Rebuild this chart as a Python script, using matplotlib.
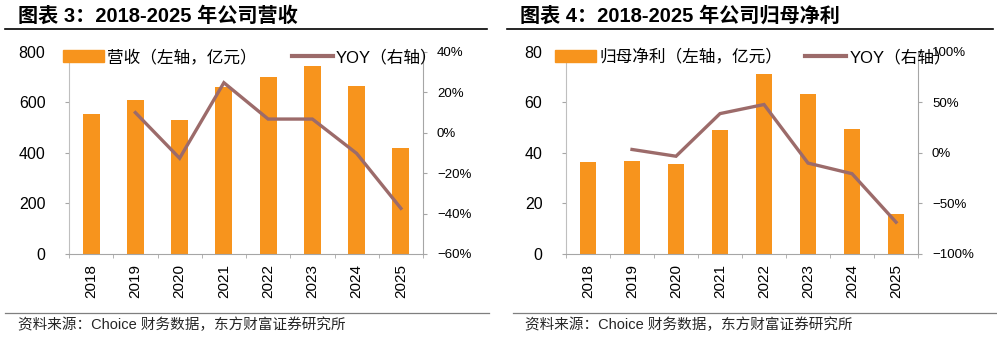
import numpy as np
import matplotlib
matplotlib.use('Agg')
from matplotlib import pyplot as plt
from matplotlib.lines import Line2D
from matplotlib.patches import Patch
from matplotlib.ticker import FuncFormatter, FixedLocator

plt.rcParams['font.family'] = ['Liberation Sans', 'Noto Sans CJK SC', 'DejaVu Sans']
plt.rcParams['axes.unicode_minus'] = True

years = ['2018', '2019', '2020', '2021', '2022', '2023', '2024', '2025']

revenue = [555, 608, 530, 660, 700, 745, 667, 418]
revenue_yoy = [np.nan, 10.0, -12.6, 24.8, 6.8, 6.8, -10.2, -37.4]

profit = [36.3, 37.0, 35.6, 49.0, 71.3, 63.3, 49.6, 16.0]
profit_yoy = [np.nan, 3.5, -3.2, 39.0, 48.0, -10.0, -20.5, -68.5]

BAR = '#F7941D'
LINE = '#9C6B6A'
GRAY = '#A6A6A6'


def pct(v, pos):
    return f"{v:.0f}%".replace('-', '\u2212')


def drawPanel(ax, bars, yoy, ylim, ystep, rlim, rstep, bar_label, leg_x, colspace):
    x = np.arange(len(years))
    ax.bar(x, bars, width=0.38, color=BAR, zorder=2)
    ax.set_xlim(-0.5, len(years) - 0.5)
    ax.set_ylim(*ylim)
    ax.set_yticks(np.arange(ylim[0], ylim[1] + 1, ystep))
    ax.set_xticks(x)
    ax.set_xticklabels(years, rotation=90)
    ax.xaxis.set_minor_locator(FixedLocator(np.arange(-0.5, len(years), 1)))
    ax.tick_params(axis='x', which='major', length=0, pad=7, labelsize=11)
    ax.tick_params(axis='x', which='minor', length=3, color=GRAY)
    ax.tick_params(axis='y', length=3, color=GRAY, labelsize=11.5, pad=14)
    for s in ['top', 'right']:
        ax.spines[s].set_visible(False)
    ax.spines['left'].set_color('#BFBFBF')
    ax.spines['bottom'].set_color(GRAY)

    ax2 = ax.twinx()
    ax2.plot(x, yoy, color=LINE, lw=2.4, solid_joinstyle='miter', zorder=3)
    ax2.set_ylim(*rlim)
    ax2.set_yticks(np.arange(rlim[0], rlim[1] + 1, rstep))
    ax2.yaxis.set_major_formatter(FuncFormatter(pct))
    ax2.tick_params(axis='y', length=3, color=GRAY, labelsize=9.5, pad=7)
    for s in ['top', 'left', 'bottom']:
        ax2.spines[s].set_visible(False)
    ax2.spines['right'].set_color(GRAY)

    handles = [Patch(color=BAR, label=bar_label),
               Line2D([], [], color=LINE, lw=3, label='YOY（右轴）')]
    ax2.legend(handles=handles, loc='center left', bbox_to_anchor=(leg_x, 0.975),
               ncol=2, frameon=False, fontsize=12, handlelength=2.45,
               handleheight=0.75, handletextpad=0.2, columnspacing=colspace,
               borderpad=0, borderaxespad=0)
    return ax2


fig = plt.figure(figsize=(9.97, 3.37), dpi=100)

ax_l = fig.add_axes([0.0692, 0.2463, 0.3551, 0.5994])
drawPanel(ax_l, revenue, revenue_yoy, (0, 800), 200, (-60, 40), 20,
          '营收（左轴，亿元）', -0.017, 2.1)

ax_r = fig.add_axes([0.5677, 0.2463, 0.3531, 0.5994])
drawPanel(ax_r, profit, profit_yoy, (0, 80), 20, (-100, 100), 50,
          '归母净利（左轴，亿元）', -0.031, 1.4)

# titles and rules
fig.text(18 / 997, 1 - 16 / 337, '图表 3：2018-2025 年公司营收', fontsize=14.5,
         fontweight='bold', va='center', ha='left')
fig.text(520 / 997, 1 - 16 / 337, '图表 4：2018-2025 年公司归母净利', fontsize=14.5,
         fontweight='bold', va='center', ha='left')
fig.add_artist(Line2D([5 / 997, 487 / 997], [1 - 29 / 337] * 2, color='black', lw=1.2))
fig.add_artist(Line2D([507 / 997, 993 / 997], [1 - 29 / 337] * 2, color='black', lw=1.2))
fig.add_artist(Line2D([5 / 997, 489 / 997], [1 - 313 / 337] * 2, color='#7F7F7F', lw=0.9))
fig.add_artist(Line2D([513 / 997, 996 / 997], [1 - 313 / 337] * 2, color='#7F7F7F', lw=0.9))

src = '资料来源：Choice 财务数据，东方财富证券研究所'
fig.text(18 / 997, 1 - 325 / 337, src, fontsize=10.5, va='center', ha='left', color='#262626')
fig.text(525 / 997, 1 - 325 / 337, src, fontsize=10.5, va='center', ha='left', color='#262626')

fig.savefig('out.png', dpi=100)
